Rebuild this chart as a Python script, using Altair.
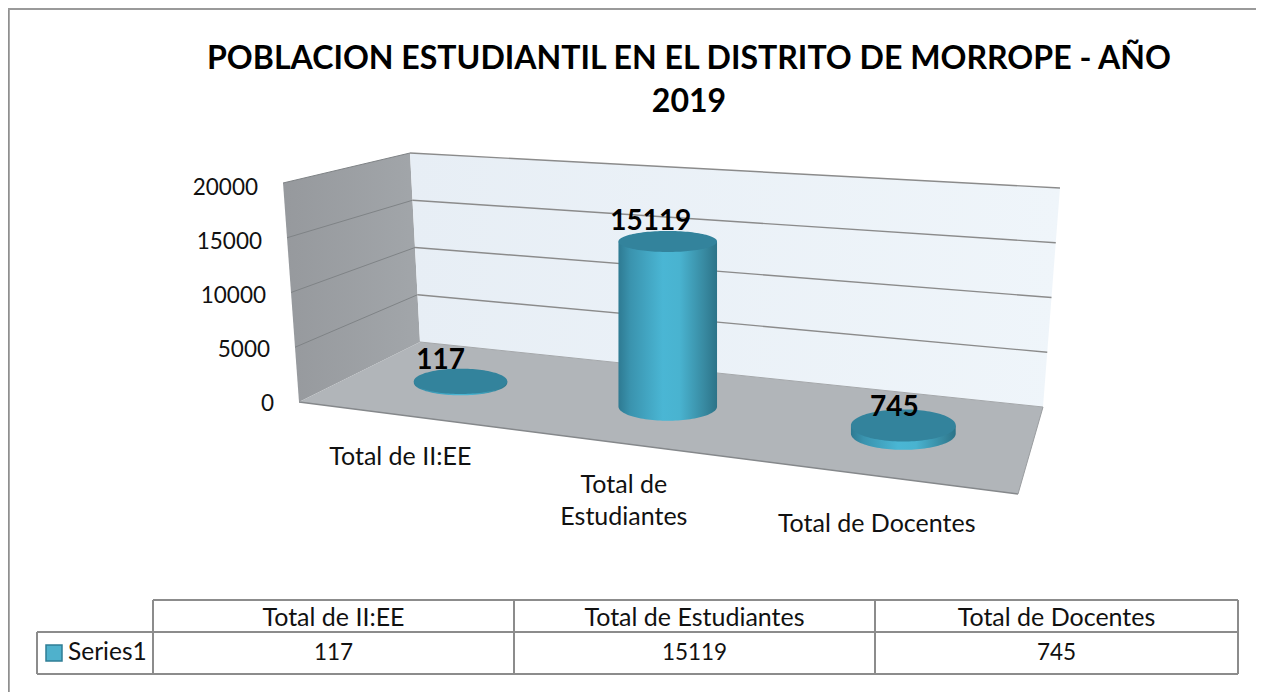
import numpy as np
import pandas as pd
import altair as alt

# ---------- values ----------
CATEGORIES = ["Total de II:EE", "Total de Estudiantes", "Total de Docentes"]
AXIS_LABELS = ["Total de II:EE", "Total de\nEstudiantes", "Total de Docentes"]
VALUES = [117, 15119, 745]
TICKS = [0, 5000, 10000, 15000, 20000]
SERIES = "Series1"
TITLE = ["POBLACION ESTUDIANTIL EN EL DISTRITO DE MORROPE - AÑO", "2019"]
FONT = "Lato"

# ---------- the 3D box: page pixels of its corners ----------
FLOOR_BL, FLOOR_BR = (420, 342), (1043, 407)
FLOOR_FL, FLOOR_FR = (299, 402), (1018, 494)
TOP_BL, TOP_BR, TOP_FL = (410, 153), (1060, 188), (283, 183)
PX_PER_UNIT = 165 / 15119
MAXV = TICKS[-1]


def homography():
    src = [(0, 0), (1, 0), (0, 1), (1, 1)]
    dst = [FLOOR_BL, FLOOR_BR, FLOOR_FL, FLOOR_FR]
    A, b = [], []
    for (u, v), (x, y) in zip(src, dst):
        A.append([u, v, 1, 0, 0, 0, -u * x, -v * x]); b.append(x)
        A.append([0, 0, 0, u, v, 1, -u * y, -v * y]); b.append(y)
    h = np.linalg.solve(np.array(A, float), np.array(b, float))
    return np.append(h, 1).reshape(3, 3)


H = homography()


def floor_pt(u, d):
    p = H @ np.array([u, d, 1.0])
    return p[0] / p[2], p[1] / p[2]


def lerp(a, b, t):
    return (a[0] + (b[0] - a[0]) * t, a[1] + (b[1] - a[1]) * t)


def polygon_area(points, n=2):
    """Upper and lower edge of a convex polygon, for an area mark."""
    pts = list(points) + [points[0]]
    xs = sorted({p[0] for p in points})
    rows = []
    for x in xs:
        ys = []
        for a, b in zip(pts[:-1], pts[1:]):
            lo, hi = min(a[0], b[0]), max(a[0], b[0])
            if lo <= x <= hi:
                if a[0] == b[0]:
                    ys += [a[1], b[1]]
                else:
                    ys.append(a[1] + (b[1] - a[1]) * (x - a[0]) / (b[0] - a[0]))
        rows.append({"x": x, "y": min(ys), "y2": max(ys)})
    return pd.DataFrame(rows)


X = alt.X("x:Q", axis=None, scale=alt.Scale(domain=[8, 1256], zero=False, nice=False))
Y = alt.Y("y:Q", axis=None, scale=alt.Scale(domain=[692, 8], zero=False, nice=False))
Y2 = alt.Y2("y2:Q")
X2 = alt.X2("x2:Q")


def grad(stops, horizontal=True):
    return alt.Gradient(
        gradient="linear",
        stops=[alt.GradientStop(color=c, offset=o) for o, c in stops],
        x1=0, x2=1 if horizontal else 0, y1=0, y2=0 if horizontal else 1,
    )


def poly(points, fill):
    return alt.Chart(polygon_area(points)).mark_area(fill=fill, interpolate="linear", clip=False).encode(x=X, y=Y, y2=Y2)


def seg(a, b, color="#85888a", width=1.3):
    df = pd.DataFrame({"x": [a[0], b[0]], "y": [a[1], b[1]]})
    return alt.Chart(df).mark_line(color=color, strokeWidth=width, interpolate="linear").encode(x=X, y=Y)


def label(x, y, text, size=25, weight="normal", align="center", baseline="middle", dx=0, dy=0, color="#111111"):
    df = pd.DataFrame({"x": [x], "y": [y], "t": [text]})
    return alt.Chart(df).mark_text(
        font=FONT, fontSize=size, fontWeight=weight, align=align, baseline=baseline,
        dx=dx, dy=dy, color=color, lineBreak="\n", lineHeight=32,
    ).encode(x=X, y=Y, text="t:N")


layers = []

# walls and floor
layers.append(poly([TOP_FL, TOP_BL, FLOOR_BL, FLOOR_FL],
                   grad([(0, "#96999d"), (1, "#a2a6aa")])))
layers.append(poly([TOP_BL, TOP_BR, FLOOR_BR, FLOOR_BL],
                   grad([(0, "#e7eef5"), (1, "#eff5fa")])))
layers.append(poly([FLOOR_FL, FLOOR_BL, FLOOR_BR, FLOOR_FR], "#b1b5b9"))

# gridlines on both walls
for t in TICKS:
    f = t / MAXV
    back_l = lerp(FLOOR_BL, TOP_BL, f)
    back_r = lerp(FLOOR_BR, TOP_BR, f)
    front_l = lerp(FLOOR_FL, TOP_FL, f)
    if t > 0:
        layers.append(seg(back_l, back_r, "#8b8b8b", 1.4))
        layers.append(seg(front_l, back_l, "#7f8386", 1.0))
    else:
        layers.append(seg(back_l, back_r, "#a5a8ab", 1.0))
layers.append(seg(FLOOR_FL, FLOOR_FR, "#85888b", 1.3))
layers.append(seg(FLOOR_FR, FLOOR_BR, "#9a9da0", 1.0))

# y axis labels, on the front edge of the left wall
for t in TICKS:
    p = lerp(FLOOR_FL, TOP_FL, t / MAXV)
    layers.append(label(p[0], p[1], str(t), size=22.5, align="right", dx=-25, dy=2 + 3 * t / MAXV))

# cylinders
BODY = grad([(0, "#2e7a92"), (0.12, "#3a93ae"), (0.45, "#4ab6d4"), (0.62, "#49b3d0"),
             (0.88, "#37889f"), (1, "#2c7388")])
TOP_COLOR = "#33839c"
LABEL_OFF = [(-20, -20), (-17, -19), (-9, -17)]
AXIS_OFF = [(1, 42), (3, 42), (1, 48)]
theta = np.linspace(0, np.pi, 61)

for i, (v, name) in enumerate(zip(VALUES, AXIS_LABELS)):
    u = (i + 0.5) / 3
    bx, by = floor_pt(u, 0.5)
    bx, by = bx + 2, by + 2
    left, right = floor_pt(u - 1 / 6, 0.5), floor_pt(u + 1 / 6, 0.5)
    near, far = floor_pt(u, 1.0), floor_pt(u, 0.0)
    rx = 49 + 0.44 * (0.225 * (right[0] - left[0]) - 49)
    ry = 0.2 * (near[1] - far[1])
    ty = by - v * PX_PER_UNIT
    rt = ry * (1 - 0.35 * v / MAXV)
    xs = bx - rx * np.cos(theta)
    body = pd.DataFrame({"x": xs, "y": by + ry * np.sin(theta), "y2": ty})
    layers.append(alt.Chart(body).mark_area(fill=BODY, interpolate="linear").encode(x=X, y=Y, y2=Y2))
    top = pd.DataFrame({"x": xs, "y": ty + rt * np.sin(theta), "y2": ty - rt * np.sin(theta)})
    layers.append(alt.Chart(top).mark_area(fill=TOP_COLOR, interpolate="linear").encode(x=X, y=Y, y2=Y2))
    # data label
    layers.append(label(bx, ty, str(v), size=28, weight="bold", dx=LABEL_OFF[i][0], dy=LABEL_OFF[i][1], color="#000000"))
    # category label under the floor
    fx, fy = floor_pt(u, 1.0)
    layers.append(label(fx, fy, name, size=25, dx=AXIS_OFF[i][0], dy=AXIS_OFF[i][1]))

# title
layers.append(label(689, 59, TITLE[0], size=32.1, weight="bold", color="#000000"))
layers.append(label(689, 102, TITLE[1], size=32.1, weight="bold", color="#000000"))

# data table
COLS = [153, 514, 875, 1238]
ROWS = [600, 632, 674]
LEFT = 37
GRAY = "#8c8c8c"
layers.append(seg((COLS[0], ROWS[0]), (COLS[3], ROWS[0]), GRAY, 2))
layers.append(seg((LEFT, ROWS[1]), (COLS[3], ROWS[1]), GRAY, 2))
layers.append(seg((LEFT, ROWS[2]), (COLS[3], ROWS[2]), GRAY, 2))
layers.append(seg((LEFT, ROWS[1]), (LEFT, ROWS[2]), GRAY, 2))
for c in COLS:
    layers.append(seg((c, ROWS[0]), (c, ROWS[2]), GRAY, 2))
for i, (name, v) in enumerate(zip(CATEGORIES, VALUES)):
    mid = (COLS[i] + COLS[i + 1]) / 2
    layers.append(label(mid, (ROWS[0] + ROWS[1]) / 2, name, size=25, dy=2))
    layers.append(label(mid, (ROWS[1] + ROWS[2]) / 2, str(v), size=22.5, dy=0))
swatch = pd.DataFrame({"x": [46], "x2": [62], "y": [645], "y2": [661]})
layers.append(alt.Chart(swatch).mark_rect(fill="#4fb1cc", stroke="#2f7d95", strokeWidth=1.5).encode(x=X, x2=X2, y=Y, y2=Y2))
layers.append(label(68, (ROWS[1] + ROWS[2]) / 2, SERIES, size=24.5, align="left", dy=0))

# frame: only the left and top edges show
layers.append(seg((8.5, 692), (8.5, 8), "#8f8f8f", 2.5))
layers.append(seg((8, 9), (1256, 9), "#9a9a9a", 2))

chart = alt.layer(*layers).properties(
    width=1248, height=684, padding=0, autosize=alt.AutoSizeParams(type="none"), background="white"
).configure_view(stroke=None)

chart.save("out.html", embed_options={"renderer": "svg", "actions": False})
